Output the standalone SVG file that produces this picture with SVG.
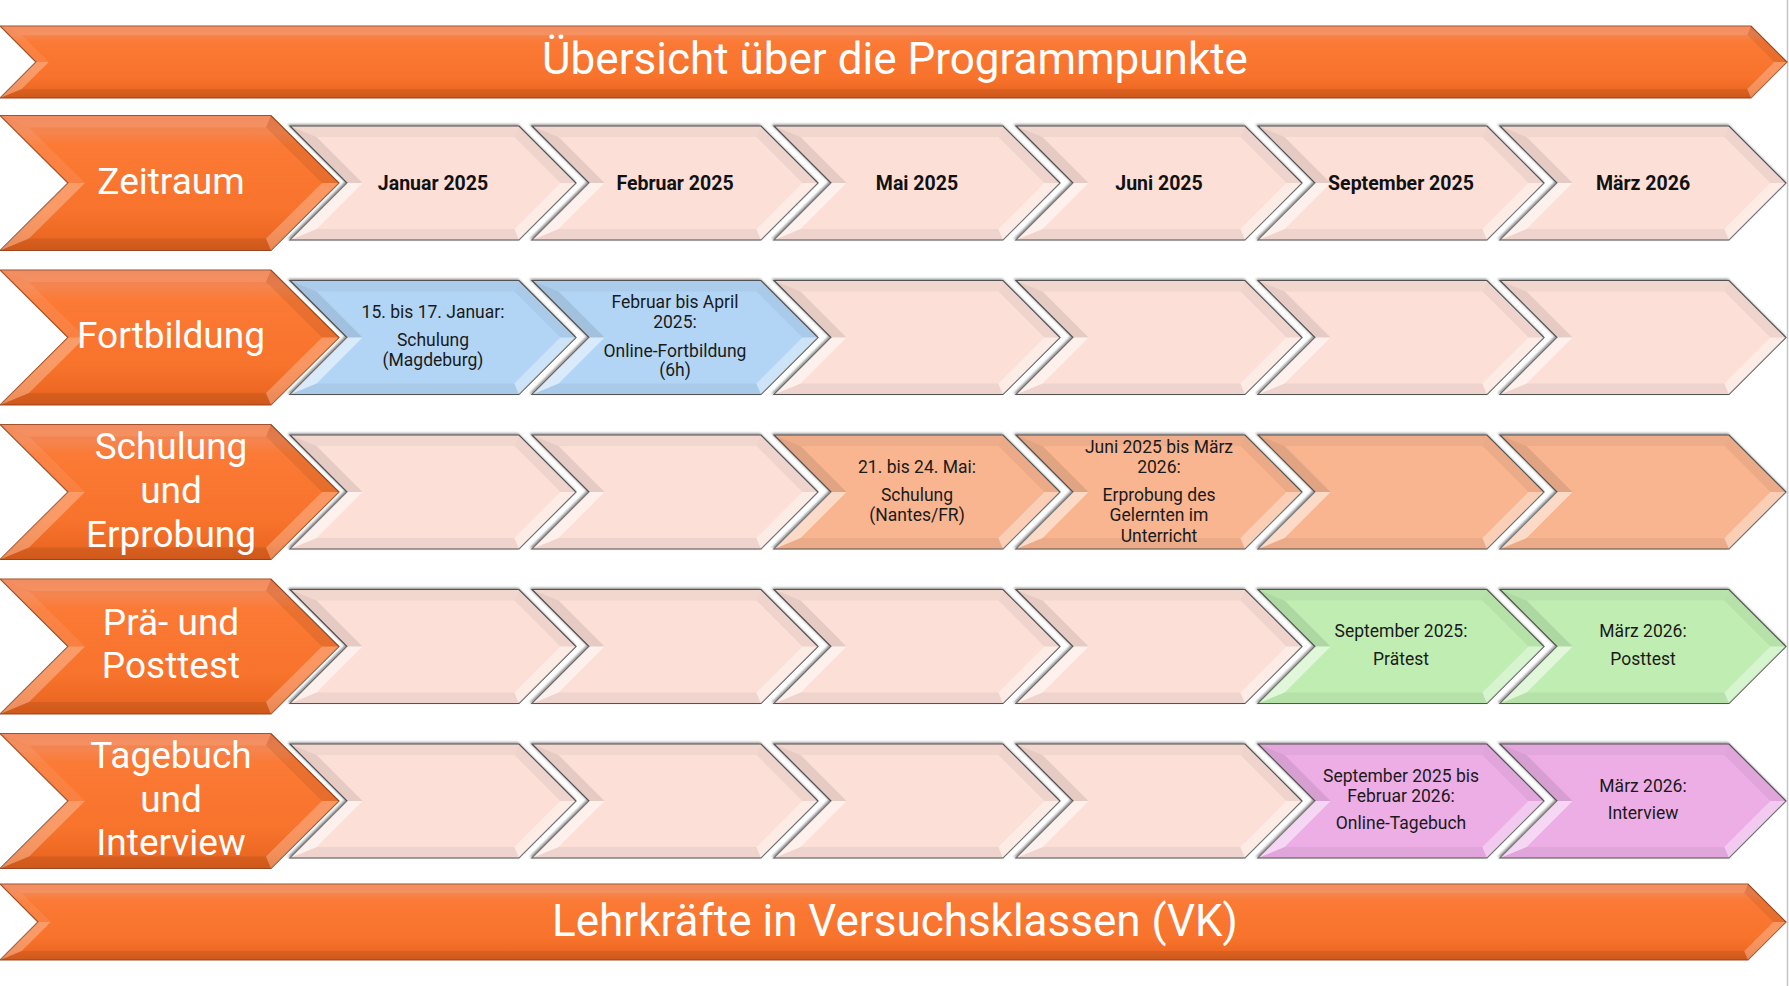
<svg xmlns="http://www.w3.org/2000/svg" xmlns:xlink="http://www.w3.org/1999/xlink" width="1789" height="986" viewBox="0 0 1789 986">
<style>
.lbl{font-family:Roboto,"Liberation Sans",sans-serif;font-size:37px;fill:#fff;text-anchor:middle}
.ban{font-family:Roboto,"Liberation Sans",sans-serif;font-size:44px;fill:#fff;text-anchor:middle}
.mon{font-family:Roboto,"Liberation Sans",sans-serif;font-size:19.5px;font-weight:700;fill:#111;text-anchor:middle}
.txt{font-family:Roboto,"Liberation Sans",sans-serif;font-size:17.5px;fill:#1a1a1a;text-anchor:middle}
.pale{fill:#FCE0D8}
.blue{fill:#B3D5F5}
.peach{fill:#F8B590}
.green{fill:#C0EEB2}
.pink{fill:#EDAEE6}
</style>
<defs>
<linearGradient id="og" x1="0" y1="0" x2="0" y2="1">
<stop offset="0" stop-color="#F08150"/>
<stop offset="0.12" stop-color="#F5854F"/>
<stop offset="0.22" stop-color="#FB7A35"/>
<stop offset="0.7" stop-color="#F8732C"/>
<stop offset="0.88" stop-color="#EE6A24"/>
<stop offset="1" stop-color="#E0601D"/>
</linearGradient>
<filter id="sh" x="-5%" y="-10%" width="110%" height="120%">
<feDropShadow dx="-1.2" dy="-1.2" stdDeviation="1" flood-color="#000" flood-opacity="0.45"/>
</filter>
<polygon id="boxOuter" points="0,0 229,0 286,57 229,114 0,114 57,57" stroke="#555" stroke-width="1.2"/>
<g id="boxFx">
<polygon points="0,0 229,0 224.4,11 26.6,11" fill="#000" fill-opacity="0.04"/>
<polygon points="0,114 229,114 224.4,103 26.6,103" fill="#000" fill-opacity="0.05"/>
<polygon points="0,0 26.6,11 72.6,57 57,57" fill="#000" fill-opacity="0.09"/>
<polygon points="57,57 72.6,57 26.6,103 0,114" fill="#fff" fill-opacity="0.5"/>
<polygon points="229,0 286,57 270.4,57 224.4,11" fill="#000" fill-opacity="0.05"/>
<polygon points="286,57 229,114 224.4,103 270.4,57" fill="#fff" fill-opacity="0.35"/>
</g>
<g id="labelShape">
<polygon points="0,0 271,0 339,67.5 271,135 0,135 68,67.5" fill="url(#og)" stroke="#9B4A22" stroke-width="1.2"/>
<polygon points="0,0 271,0 266,12 29,12" fill="#fff" fill-opacity="0.1"/>
<polygon points="0,135 271,135 266,123 29,123" fill="#000" fill-opacity="0.08"/>
<polygon points="0,0 29,12 85,67.5 68,67.5" fill="#fff" fill-opacity="0.08"/>
<polygon points="68,67.5 85,67.5 29,123 0,135" fill="#fff" fill-opacity="0.28"/>
<polygon points="271,0 339,67.5 322,67.5 266,12" fill="#000" fill-opacity="0.07"/>
<polygon points="339,67.5 271,135 266,123 322,67.5" fill="#fff" fill-opacity="0.25"/>
</g>
</defs>
<rect width="1789" height="986" fill="#fff"/>
<line x1="1787.5" y1="0" x2="1787.5" y2="986" stroke="#c4c4c4" stroke-width="1.5"/>

<g id="banner-top">
<polygon points="0,26 1751,26 1787,62 1751,98 0,98 36,62" fill="url(#og)" stroke="#9B4A22" stroke-width="1.2"/>
<polygon points="0,26 1751,26 1747.3,35 21.7,35" fill="#fff" fill-opacity="0.1"/>
<polygon points="0,98 1751,98 1747.3,89 21.7,89" fill="#000" fill-opacity="0.08"/>
<polygon points="0,26 21.7,35 48.7,62 36,62" fill="#fff" fill-opacity="0.08"/>
<polygon points="36,62 48.7,62 21.7,89 0,98" fill="#fff" fill-opacity="0.28"/>
<polygon points="1751,26 1787,62 1774.3,62 1747.3,35" fill="#000" fill-opacity="0.07"/>
<polygon points="1787,62 1751,98 1747.3,89 1774.3,62" fill="#fff" fill-opacity="0.25"/>
<text class="ban" x="895" y="74">Übersicht über die Programmpunkte</text>
</g>

<g id="banner-bottom">
<polygon points="0,884 1748,884 1786,922 1748,960 0,960 38,922" fill="url(#og)" stroke="#9B4A22" stroke-width="1.2"/>
<polygon points="0,884 1748,884 1744.3,893 21.7,893" fill="#fff" fill-opacity="0.1"/>
<polygon points="0,960 1748,960 1744.3,951 21.7,951" fill="#000" fill-opacity="0.08"/>
<polygon points="0,884 21.7,893 50.7,922 38,922" fill="#fff" fill-opacity="0.08"/>
<polygon points="38,922 50.7,922 21.7,951 0,960" fill="#fff" fill-opacity="0.28"/>
<polygon points="1748,884 1786,922 1773.3,922 1744.3,893" fill="#000" fill-opacity="0.07"/>
<polygon points="1786,922 1748,960 1744.3,951 1773.3,922" fill="#fff" fill-opacity="0.25"/>
<text class="ban" x="895" y="935.5">Lehrkräfte in Versuchsklassen (VK)</text>
</g>

<!-- Row labels -->
<g id="label-zeitraum" transform="translate(0,115.5)">
<use href="#labelShape"/>
<text class="lbl" x="171" y="78">Zeitraum</text>
</g>
<g id="label-fortbildung" transform="translate(0,270)">
<use href="#labelShape"/>
<text class="lbl" x="171" y="78">Fortbildung</text>
</g>
<g id="label-schulung" transform="translate(0,424.5)">
<use href="#labelShape"/>
<text class="lbl" x="171" y="34">Schulung</text>
<text class="lbl" x="171" y="78">und</text>
<text class="lbl" x="171" y="122">Erprobung</text>
</g>
<g id="label-test" transform="translate(0,579)">
<use href="#labelShape"/>
<text class="lbl" x="171" y="56">Prä- und</text>
<text class="lbl" x="171" y="99">Posttest</text>
</g>
<g id="label-tagebuch" transform="translate(0,733.5)">
<use href="#labelShape"/>
<text class="lbl" x="171" y="34.5">Tagebuch</text>
<text class="lbl" x="171" y="78">und</text>
<text class="lbl" x="171" y="121">Interview</text>
</g>

<!-- Row 1: Zeitraum -->
<g id="z-1" transform="translate(290,126)"><use href="#boxOuter" class="pale" filter="url(#sh)"/><use href="#boxFx"/><text class="mon" x="143" y="63.8">Januar 2025</text></g>
<g id="z-2" transform="translate(532,126)"><use href="#boxOuter" class="pale" filter="url(#sh)"/><use href="#boxFx"/><text class="mon" x="143" y="63.8">Februar 2025</text></g>
<g id="z-3" transform="translate(774,126)"><use href="#boxOuter" class="pale" filter="url(#sh)"/><use href="#boxFx"/><text class="mon" x="143" y="63.8">Mai 2025</text></g>
<g id="z-4" transform="translate(1016,126)"><use href="#boxOuter" class="pale" filter="url(#sh)"/><use href="#boxFx"/><text class="mon" x="143" y="63.8">Juni 2025</text></g>
<g id="z-5" transform="translate(1258,126)"><use href="#boxOuter" class="pale" filter="url(#sh)"/><use href="#boxFx"/><text class="mon" x="143" y="63.8">September 2025</text></g>
<g id="z-6" transform="translate(1500,126)"><use href="#boxOuter" class="pale" filter="url(#sh)"/><use href="#boxFx"/><text class="mon" x="143" y="63.8">März 2026</text></g>

<!-- Row 2: Fortbildung -->
<g id="f-1" transform="translate(290,280.5)"><use href="#boxOuter" class="blue" filter="url(#sh)"/><use href="#boxFx"/>
<text class="txt" x="143" y="37.8">15. bis 17. Januar:</text>
<text class="txt" x="143" y="65.5">Schulung</text>
<text class="txt" x="143" y="85.5">(Magdeburg)</text></g>
<g id="f-2" transform="translate(532,280.5)"><use href="#boxOuter" class="blue" filter="url(#sh)"/><use href="#boxFx"/>
<text class="txt" x="143" y="27.5">Februar bis April</text>
<text class="txt" x="143" y="47.5">2025:</text>
<text class="txt" x="143" y="76">Online-Fortbildung</text>
<text class="txt" x="143" y="95.5">(6h)</text></g>
<g id="f-3" transform="translate(774,280.5)"><use href="#boxOuter" class="pale" filter="url(#sh)"/><use href="#boxFx"/></g>
<g id="f-4" transform="translate(1016,280.5)"><use href="#boxOuter" class="pale" filter="url(#sh)"/><use href="#boxFx"/></g>
<g id="f-5" transform="translate(1258,280.5)"><use href="#boxOuter" class="pale" filter="url(#sh)"/><use href="#boxFx"/></g>
<g id="f-6" transform="translate(1500,280.5)"><use href="#boxOuter" class="pale" filter="url(#sh)"/><use href="#boxFx"/></g>

<!-- Row 3: Schulung und Erprobung -->
<g id="s-1" transform="translate(290,435)"><use href="#boxOuter" class="pale" filter="url(#sh)"/><use href="#boxFx"/></g>
<g id="s-2" transform="translate(532,435)"><use href="#boxOuter" class="pale" filter="url(#sh)"/><use href="#boxFx"/></g>
<g id="s-3" transform="translate(774,435)"><use href="#boxOuter" class="peach" filter="url(#sh)"/><use href="#boxFx"/>
<text class="txt" x="143" y="37.8">21. bis 24. Mai:</text>
<text class="txt" x="143" y="65.5">Schulung</text>
<text class="txt" x="143" y="85.5">(Nantes/FR)</text></g>
<g id="s-4" transform="translate(1016,435)"><use href="#boxOuter" class="peach" filter="url(#sh)"/><use href="#boxFx"/>
<text class="txt" x="143" y="17.7">Juni 2025 bis März</text>
<text class="txt" x="143" y="37.7">2026:</text>
<text class="txt" x="143" y="65.7">Erprobung des</text>
<text class="txt" x="143" y="85.7">Gelernten im</text>
<text class="txt" x="143" y="106.5">Unterricht</text></g>
<g id="s-5" transform="translate(1258,435)"><use href="#boxOuter" class="peach" filter="url(#sh)"/><use href="#boxFx"/></g>
<g id="s-6" transform="translate(1500,435)"><use href="#boxOuter" class="peach" filter="url(#sh)"/><use href="#boxFx"/></g>

<!-- Row 4: Prä- und Posttest -->
<g id="t-1" transform="translate(290,589.5)"><use href="#boxOuter" class="pale" filter="url(#sh)"/><use href="#boxFx"/></g>
<g id="t-2" transform="translate(532,589.5)"><use href="#boxOuter" class="pale" filter="url(#sh)"/><use href="#boxFx"/></g>
<g id="t-3" transform="translate(774,589.5)"><use href="#boxOuter" class="pale" filter="url(#sh)"/><use href="#boxFx"/></g>
<g id="t-4" transform="translate(1016,589.5)"><use href="#boxOuter" class="pale" filter="url(#sh)"/><use href="#boxFx"/></g>
<g id="t-5" transform="translate(1258,589.5)"><use href="#boxOuter" class="green" filter="url(#sh)"/><use href="#boxFx"/>
<text class="txt" x="143" y="47.5">September 2025:</text>
<text class="txt" x="143" y="75.5">Prätest</text></g>
<g id="t-6" transform="translate(1500,589.5)"><use href="#boxOuter" class="green" filter="url(#sh)"/><use href="#boxFx"/>
<text class="txt" x="143" y="47.5">März 2026:</text>
<text class="txt" x="143" y="75.5">Posttest</text></g>

<!-- Row 5: Tagebuch und Interview -->
<g id="d-1" transform="translate(290,744)"><use href="#boxOuter" class="pale" filter="url(#sh)"/><use href="#boxFx"/></g>
<g id="d-2" transform="translate(532,744)"><use href="#boxOuter" class="pale" filter="url(#sh)"/><use href="#boxFx"/></g>
<g id="d-3" transform="translate(774,744)"><use href="#boxOuter" class="pale" filter="url(#sh)"/><use href="#boxFx"/></g>
<g id="d-4" transform="translate(1016,744)"><use href="#boxOuter" class="pale" filter="url(#sh)"/><use href="#boxFx"/></g>
<g id="d-5" transform="translate(1258,744)"><use href="#boxOuter" class="pink" filter="url(#sh)"/><use href="#boxFx"/>
<text class="txt" x="143" y="37.7">September 2025 bis</text>
<text class="txt" x="143" y="57.7">Februar 2026:</text>
<text class="txt" x="143" y="85.3">Online-Tagebuch</text></g>
<g id="d-6" transform="translate(1500,744)"><use href="#boxOuter" class="pink" filter="url(#sh)"/><use href="#boxFx"/>
<text class="txt" x="143" y="47.7">März 2026:</text>
<text class="txt" x="143" y="75.3">Interview</text></g>

<g id="connectors"/>
</svg>
